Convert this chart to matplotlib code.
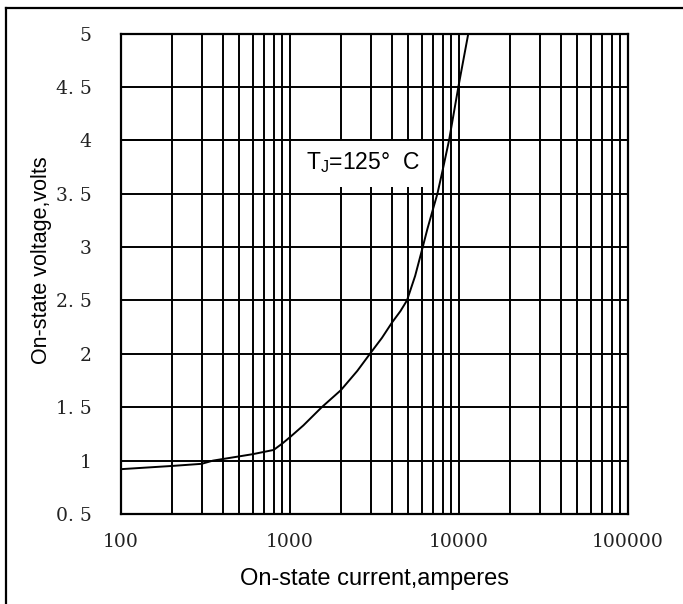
import matplotlib
matplotlib.use('Agg')
import matplotlib.pyplot as plt
from matplotlib.lines import Line2D
from matplotlib.patches import Rectangle
from matplotlib.ticker import FixedLocator, NullFormatter

# Curva (corriente en A, tensión en V)
current = [100, 200, 300, 350, 600, 800, 900, 1000, 1200, 1540, 2000, 2500,
           2970, 3500, 4000, 4500, 4920, 5500, 6100, 6500, 7000, 7450, 8000,
           8730, 9000, 9910, 11350]
voltage = [0.92, 0.95, 0.97, 1.0, 1.06, 1.10, 1.16, 1.22, 1.33, 1.5, 1.66, 1.84,
           2.0, 2.15, 2.29, 2.4, 2.5, 2.73, 3.0, 3.17, 3.35, 3.5, 3.72,
           4.0, 4.12, 4.5, 5.0]

x_ticks = [100, 1000, 10000, 100000]
x_tick_labels = ['100', '1000', '10000', '100000']
y_ticks = [0.5, 1, 1.5, 2, 2.5, 3, 3.5, 4, 4.5, 5]
y_tick_labels = ['0. 5', '1', '1. 5', '2', '2. 5', '3', '3. 5', '4', '4. 5', '5']
label_text = 'T$_\\mathregular{J}$=125°  C'

fig = plt.figure(figsize=(6.83, 6.04), dpi=100)
ax = fig.add_axes([0.1772, 0.149, 0.7423, 0.7955])

ax.set_xscale('log')
ax.set_xlim(100, 100000)
ax.set_ylim(0.5, 5)

# Rejilla: todas las décadas con sus subdivisiones
minor = [m * 10 ** e for e in range(2, 5) for m in range(2, 10)]
ax.xaxis.set_major_locator(FixedLocator(x_ticks))
ax.xaxis.set_minor_locator(FixedLocator(minor))
ax.xaxis.set_minor_formatter(NullFormatter())
ax.set_xticks(x_ticks)
ax.set_xticklabels(x_tick_labels)
ax.set_yticks(y_ticks)
ax.set_yticklabels(y_tick_labels)
ax.grid(True, which='both', axis='x', color='black', linewidth=1.4)
ax.grid(True, which='major', axis='y', color='black', linewidth=1.4)
ax.tick_params(axis='y', which='both', length=0, pad=21)
ax.tick_params(axis='x', which='both', length=0, pad=14)
for lab in ax.get_xticklabels() + ax.get_yticklabels():
    lab.set_family('DejaVu Serif')
    lab.set_fontsize(13.5)
    lab.set_color('#222222')
for sp in ax.spines.values():
    sp.set_linewidth(1.6)

ax.plot(current, voltage, color='black', linewidth=1.4, zorder=4)

# Caja blanca con la etiqueta de temperatura
ax.add_patch(Rectangle((1030, 3.56), 7000 - 1030 - 80, 4.0 - 3.56, facecolor='white',
                       edgecolor='none', zorder=3))
ax.axhline(4.0, color='black', linewidth=1.4, zorder=3.5)
ax.text(2700, 3.79, label_text, ha='center', va='center', fontsize=16.5,
        family='Liberation Sans', zorder=5)

ax.set_xlabel('On-state current,amperes', family='Liberation Sans', fontsize=17, labelpad=12)
ax.set_ylabel('On-state voltage,volts', family='Liberation Sans', fontsize=15.5)
ax.yaxis.set_label_coords(-0.136, 0.528)

# Marco exterior (solo arriba e izquierda visibles)
fig.add_artist(Line2D([6 / 683, 1], [1 - 8 / 604, 1 - 8 / 604], color='black', linewidth=1.6))
fig.add_artist(Line2D([6 / 683, 6 / 683], [0, 1 - 8 / 604], color='black', linewidth=1.6))

fig.savefig('out.png', dpi=100)
